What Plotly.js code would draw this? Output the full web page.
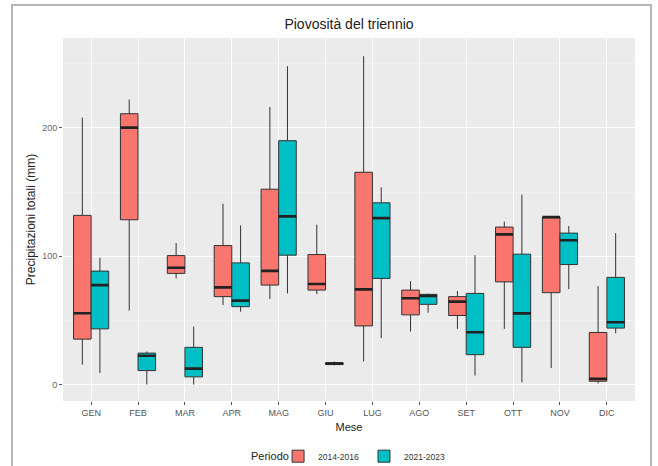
<!DOCTYPE html>
<html>
<head>
<meta charset="utf-8">
<script src="https://cdn.plot.ly/plotly-3.0.1.min.js"></script>
<style>
html,body{margin:0;padding:0;background:#fff;}
#wrap{position:relative;width:658px;height:466px;overflow:hidden;}
#chart{position:absolute;left:0;top:0;width:658px;height:466px;}
#frame{position:absolute;left:11px;top:4px;width:637px;height:480px;border:2px solid #b5b5b5;pointer-events:none;}
</style>
</head>
<body>
<div id="wrap"><div id="chart"></div><div id="frame"></div></div>
<script>
const months = ["GEN","FEB","MAR","APR","MAG","GIU","LUG","AGO","SET","OTT","NOV","DIC"];

// Periodo 2014-2016
const p1_low    = [15.5, 57.6, 82.7, 62.0, 66.7, 70.5, 18.0, 41.3, 43.4, 43.4, 12.9, 0.8];
const p1_q1     = [35.4, 128.4, 86.6, 68.5, 77.5, 73.6, 45.7, 54.3, 53.8, 80.0, 71.6, 2.6];
const p1_median = [55.6, 200.2, 91.0, 75.7, 88.6, 78.3, 74.2, 67.2, 64.6, 117.0, 130.5, 4.4];
const p1_q3     = [131.8, 211.0, 100.5, 108.3, 152.2, 101.3, 165.4, 73.6, 68.5, 122.7, 130.5, 40.6];
const p1_high   = [208.0, 222.0, 110.3, 140.8, 216.3, 124.5, 255.8, 80.6, 72.9, 127.0, 130.5, 76.7];

// Periodo 2021-2023
const p2_low    = [9.0, 0.0, 0.0, 56.8, 71.0, 15.0, 36.2, 56.0, 7.0, 1.8, 74.4, 40.0];
const p2_q1     = [43.4, 10.9, 6.0, 60.7, 100.8, 15.6, 82.7, 62.5, 23.3, 29.0, 93.5, 44.0];
const p2_median = [77.5, 22.5, 12.4, 65.4, 131.0, 16.3, 129.7, 69.0, 40.8, 55.5, 112.4, 48.6];
const p2_q3     = [88.4, 24.5, 29.0, 94.8, 190.0, 17.0, 141.6, 70.3, 71.0, 101.6, 118.0, 83.5];
const p2_high   = [98.7, 25.8, 45.2, 124.0, 248.0, 18.0, 153.7, 70.8, 100.8, 148.0, 123.5, 118.0];

const periods = ["2014-2016", "2021-2023"];
const colors = ["#F8766D", "#00BFC4"];

function boxTrace(name, color, low, q1, med, q3, high, group) {
  return {
    type: "box", name: name, x: months,
    lowerfence: low, q1: q1, median: med, q3: q3, upperfence: high,
    fillcolor: color, line: {color: "#333333", width: 1},
    whiskerwidth: 0, offsetgroup: group, boxpoints: false,
    hoverinfo: "y"
  };
}
function medTrace(med, group) {
  return {
    type: "box", x: months, lowerfence: med, q1: med, median: med, q3: med, upperfence: med,
    fillcolor: "rgba(0,0,0,0)", line: {color: "#222222", width: 2.6},
    whiskerwidth: 0, offsetgroup: group, boxpoints: false,
    showlegend: false, hoverinfo: "skip"
  };
}

const data = [
  boxTrace(periods[0], colors[0], p1_low, p1_q1, p1_median, p1_q3, p1_high, "a"),
  boxTrace(periods[1], colors[1], p2_low, p2_q1, p2_median, p2_q3, p2_high, "b"),
  medTrace(p1_median, "a"),
  medTrace(p2_median, "b")
];

const layout = {
  width: 658, height: 466,
  margin: {l: 63, r: 23, t: 38, b: 65, autoexpand: false},
  paper_bgcolor: "#ffffff",
  plot_bgcolor: "#EBEBEB",
  font: {family: "Liberation Sans, Arial, sans-serif", color: "#4d4d4d"},
  title: {text: "Piovosità del triennio", x: 0.5, xref: "paper", xanchor: "center",
          y: 1 - 24 / 466, yanchor: "middle",
          font: {size: 14, color: "#222222"}},
  boxmode: "group", boxgap: 0.25, boxgroupgap: 0,
  xaxis: {
    type: "category", categoryorder: "array", categoryarray: months,
    range: [-0.6, 11.6], showgrid: true, gridcolor: "#ffffff", gridwidth: 1,
    zeroline: false, showline: false, automargin: false,
    ticks: "outside", ticklen: 3, tickcolor: "#555555", tickwidth: 1,
    tickfont: {size: 9, color: "#555555"},
    title: {text: "Mese", font: {size: 11, color: "#222222"}, standoff: 6}
  },
  yaxis: {
    range: [-12.8, 270], tickvals: [0, 100, 200], ticktext: ["0", "100", "200"],
    showgrid: true, gridcolor: "#ffffff", gridwidth: 1.1, zeroline: false, showline: false, automargin: false,
    ticks: "outside", ticklen: 3, tickcolor: "#555555", tickwidth: 1,
    tickfont: {size: 9, color: "#666666"},
    minor: {tickvals: [50, 150, 250], showgrid: true, gridcolor: "#f7f7f7", gridwidth: 0.6, ticks: ""},
    title: {text: "Precipitazioni totali (mm)", font: {size: 12, color: "#222222"}, standoff: 3}
  },
  legend: {
    orientation: "h", x: 0.376, xanchor: "left", y: -0.152, yanchor: "middle",
    font: {size: 8.5, color: "#333333"}, bgcolor: "rgba(0,0,0,0)",
    itemwidth: 30
  },
  annotations: [{
    text: "Periodo", xref: "paper", yref: "paper", x: (270 - 63) / 572, y: -0.152,
    xanchor: "center", yanchor: "middle", showarrow: false,
    font: {size: 11, color: "#222222"}
  }],
  showlegend: true
};

Plotly.newPlot("chart", data, layout, {displayModeBar: false, staticPlot: true});
</script>
</body>
</html>
